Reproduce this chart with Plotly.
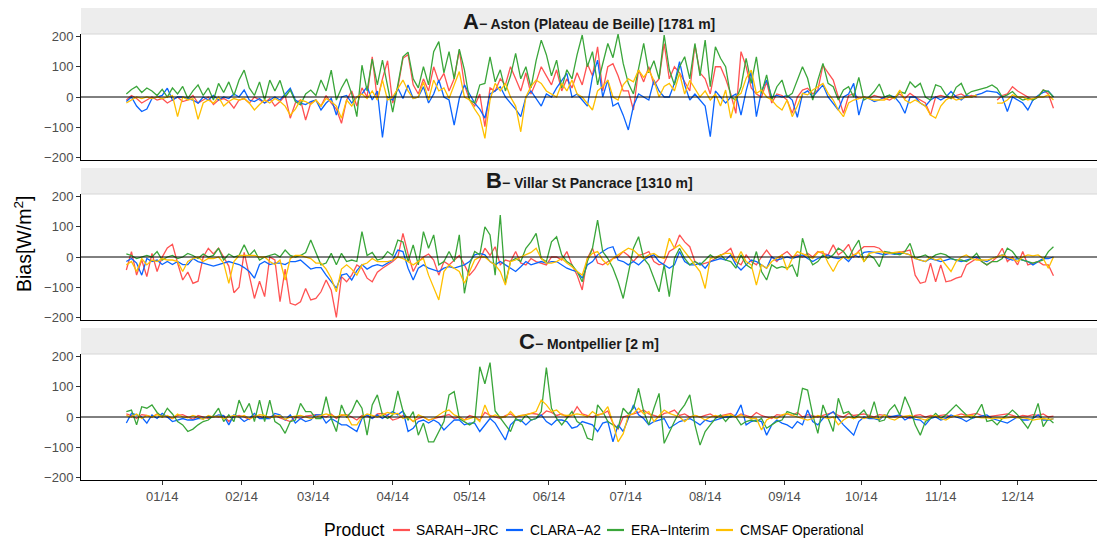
import pandas as pd
import plotly.graph_objects as go

# Observation days (one value every second day, Dec 2013 - Dec 2014)
dates = pd.date_range("2013-12-18", periods=182, freq="2D")

products = ["SARAH−JRC", "CLARA−A2", "ERA−Interim", "CMSAF Operational"]
colors = ["#FF5252", "#0A64FF", "#3AA63A", "#FFC000"]

month_ticks = pd.date_range("2014-01-01", periods=12, freq="MS")
month_labels = ["01/14", "02/14", "03/14", "04/14", "05/14", "06/14",
                "07/14", "08/14", "09/14", "10/14", "11/14", "12/14"]

# ---- Aston (Plateau de Beille), bias in W/m2 ----
aston_sarah = [
    -10, 5, -5, -20, -10, 0, -10,
    -5, -20, -10, 0, -15, -10, 5, -20, -10, 0, -25, -10, -5, -15, -37, -10,
    -5, -20, 0, -10, -20, -5, -30, -15, 5, -70, -20, -10, -76, -20,
    -10, -30, 5, -20, -40, -87, -10, 20, -30, 30, 0, 133, -10, 60, 120,
    -20, 30, 128, 140, 40, 10, 60, 20, 100, 50, 78, 20, 60, 155, 40,
    -10, -30, 10, -98, 30, 20, 60, 40, 100, 60, 20, 80, 10, 50, 100, 70,
    40, 90, 20, 60, 30, 80, 40, 110, 70, 166, 20, 100, 110, 70, 20,
    20, -43, 90, 50, 100, 40, 60, 177, 60, 100, 80, 50, 20, 172, 80,
    60, 10, 100, 100, 60, 10, -54, 150, 100, 30, 10, 0, 50, -20, 10, 5,
    -10, -54, 0, 23, 29, 10, 23, 105, 80, 56, 0, -54, 5, 10, -5,
    0, -5, 5, 0, -5, -10, 0, 10, -5, 12, 0, -10, -20, -60, 0,
    5, 0, -5, 5, 10, 0, 5, 0, None, None, None, -10, 5, 10, 34,
    20, 10, 0, -10, 0, 23, 10, -37,
]
aston_clara = [
    -15, 0, -30, -48, -40, -5, 0,
    5, 29, -10, 0, 0, -5, -10, -20, 0, -10, 5, -10, 0, -5, 10, 0,
    23, -10, -15, -5, -20, -10, 0, -10, 10, 29, -10, -20, -25, -15,
    -10, -43, -20, -5, -60, 0, 5, -20, 0, 10, 34, -10, 20, -134, 0,
    -10, 30, -5, 40, -5, 0, 34, -20, 10, 56, 0, -10, -93, -5, 40,
    10, -20, -40, -70, 10, 20, 34, 0, -20, -40, -65, 0, 20, -5, -30, 10,
    0, 30, 56, 78, 0, 10, -10, -30, 67, 122, 0, 56, -30, -20, -60,
    -109, -30, 10, 0, -10, 56, 20, 0, 0, 45, 117, 40, -10, 10, -10,
    -30, -131, 20, 0, -20, 0, 10, -60, 20, 84, -65, 20, 56, 0, 5, 0,
    5, -10, -67, 10, 20, 0, 20, 40, 0, -20, -43, 0, 10, 45, -60,
    0, -5, -15, -10, 0, 5, 0, -20, -54, 0, 0, -20, -30, -10, 0,
    -10, 0, 18, 0, -10, 5, 0, 7, 12, 20, 18, 15, 0, -48, 0,
    -10, -20, -43, -10, 5, 15, 20, 0,
]
aston_era = [
    10, 25, 35, 15, 30, 20, 5,
    25, 0, 30, 10, 35, -5, 20, 40, 5, 30, -10, 45, 15, 50, 5, 56,
    89, 30, 5, 50, -10, 56, 20, 55, 0, 23, -15, -26, 10, 23,
    5, 56, 20, 89, -10, 30, 60, 10, -65, 105, 20, 125, 40, 122, 30,
    -50, 40, 133, 148, 60, 30, 100, 40, 150, 183, 80, 150, 60, 158, 90,
    -10, -20, 40, 45, 133, 50, 90, 20, 70, 144, 60, 100, 30, 120, 188, 140,
    70, 122, 30, 90, 60, 140, 205, 100, 150, 40, 110, 177, 130, 208, 111,
    45, 10, 100, 177, 80, 120, 60, 205, 90, 40, 100, 133, 60, 177, 70,
    188, 34, 166, 128, 100, 0, -10, 34, 128, 45, 133, 12, 73, -10, 34, 56,
    0, 12, 56, 100, 62, -10, 56, 111, 45, 34, -10, 23, 34, 0, 65,
    -10, 0, 18, 43, 0, 7, -5, 18, 12, 50, 32, 45, 0, -10, 40,
    34, 7, -5, 32, 45, 7, 18, 23, 28, 32, 40, 28, 0, 7, 18,
    0, -10, -5, -10, 0, 23, 18, 0,
]
aston_cmsaf = [
    -20, -10, 0, -5, 0, -5, 0,
    -5, 0, 5, -65, 0, -10, -5, -74, -20, -10, -20, 0, -30, -15, -5, -10,
    -5, -20, -43, -25, -10, -20, -5, -15, -30, -60, -40, -10, -15, -25,
    -10, -30, -5, -15, -30, -70, -10, -30, 0, 10, -5, 20, -10, 56, -10,
    0, 30, 56, 20, -5, 0, 50, -10, 56, 20, 30, -5, 40, 84, 0,
    -10, -40, -65, -137, -10, 45, 20, 45, 0, -30, -115, 0, 35, 56, 45, 20,
    10, 0, 45, 20, 56, 10, 0, -20, -43, 20, 35, 56, 0, -10, 40,
    60, 50, 89, 65, 89, 55, 0, 35, 45, 20, 78, 10, 55, 25, 0,
    20, -10, 10, -30, 23, -70, 0, 12, 62, 89, 12, 23, 0, -10, -30, -43,
    -10, -65, -30, 12, 7, 23, 34, 45, 12, -10, -43, -65, -20, -10, -5,
    0, -5, -10, -10, -10, 0, -5, 23, -10, -20, -10, -20, -30, -60, -70,
    -30, -10, 0, -10, -5, 0, 0, 7, None, None, None, -20, -20, -10, 7,
    0, 0, -10, -5, 0, 0, 7, -10,
]

# ---- Villar St Pancrace ----
villar_sarah = [
    -43, 18, -60, -10, -65, 12, -48,
    0, 30, 42, -20, -76, -50, -87, -80, 0, 29, 10, 29, 0, -30, -118, -100,
    15, -60, -137, -80, -131, 0, -10, -148, -40, -153, -159, -148, -104, -142,
    -137, -115, -76, -110, -200, -65, -82, -60, -26, -37, -70, -82, -50, -37, -26,
    -15, 0, 78, 10, -48, -15, 0, 10, -10, -60, -15, -26, -10, 5, -26,
    -60, -40, -10, 29, 5, 34, -26, -10, -15, 18, -20, -26, -5, -15, -20, -26,
    0, 0, -10, 18, -26, -60, -109, -5, 29, -20, -26, -15, -5, 0, 18,
    5, -15, 5, 10, 18, -15, -26, -20, 18, 29, 73, 50, 34, -15, -26,
    -20, -15, -5, 5, 15, 29, -15, -26, 7, -15, -26, 0, 23, 0, -15, 7,
    18, 0, 7, 0, 12, 0, 18, 12, 7, 40, 7, 20, 42, 0, 20,
    34, 34, 34, 29, 12, 15, 12, 15, 18, 23, -60, -87, -82, -20, -82,
    -26, -82, -78, -70, -65, -26, -15, -5, -15, -26, -15, 0, 29, -15, 0,
    -26, 18, -26, -20, -15, -26, -26, -62,
]
villar_clara = [
    -15, -5, -20, -60, -5, -15, -10,
    -25, -15, -25, -15, -25, -25, -5, -15, -20, -25, -30, -25, -20, -15, -20, -25,
    -35, -48, -70, -25, -15, -25, -20, -20, -25, -15, -15, -10, -25, -40,
    -35, -35, -60, -80, -103, -60, -55, -76, -45, -25, -40, -30, -25, -30, -20,
    -10, 23, 18, -37, -76, -37, -26, -37, -43, -48, -37, -32, -37, -32, -26,
    -15, 7, 12, 7, -15, -26, -15, -26, -37, -48, -32, -15, -26, -20, -15, -20,
    -15, -15, -26, -37, -43, -48, -70, -26, -15, 7, 18, 29, 34, -10, -15,
    -26, -15, -26, -10, 0, 7, -15, -26, -37, -26, 18, -15, -26, -26, -20,
    -37, -15, -10, -5, -10, 7, -26, -43, -26, -10, -15, -26, -37, 0, -10, -5,
    0, -5, 0, 7, -5, -15, -5, 0, 7, -2, -5, 0, -15, 7, 0,
    15, 18, 15, 12, 7, 12, 9, 12, 12, 7, -5, -10, -15, -5, -10,
    -15, -10, -5, -10, -15, -10, -5, 0, -10, -15, -5, 0, 7, -5, -10,
    -5, -10, -15, -26, -15, -5, -5, 0,
]
villar_era = [
    10, 5, -5, 0, 5, 0, 18,
    -10, 0, 5, -5, 0, 12, 5, -5, 10, 0, 5, 29, -10, 10, 0, 5,
    40, 5, 23, -10, 0, 5, 10, 0, 23, 5, 0, 5, 15, 56,
    15, -26, -20, 12, -26, 12, -15, -10, -15, 84, 5, 15, -10, -5, 18,
    5, 56, 50, -15, 40, -26, 84, 29, 73, -26, -15, 18, -15, 73, -120,
    -26, 18, 7, 100, 73, -60, 139, -87, -15, -5, -15, 29, 50, 78, -5, -15,
    50, 67, 7, -15, -26, -48, -82, -15, 29, 122, 18, -5, -37, -82, -137,
    -48, 29, 67, -5, -26, -70, -115, -26, -131, -5, 29, -5, -26, -15, -26,
    -10, 7, -5, 7, -10, -15, -37, 7, -26, -37, 18, -48, -76, -26, -37, -32,
    -37, -26, -65, 62, 7, -26, -15, 7, -5, 7, 29, 18, -5, 29, 56,
    -15, 7, -5, -32, 18, 15, 12, 7, 18, 45, -5, 0, 7, -5, 7,
    12, 7, -5, -10, -10, -15, -5, 12, -15, -26, -15, -15, -5, 29, 18,
    -5, -10, -15, -20, -15, -10, 18, 34,
]
villar_cmsaf = [
    -26, -15, -48, -5, -26, -10, -15,
    -5, -10, -10, -15, -48, -15, -5, 0, -15, -5, -5, 0, -20, -87, -15, 5,
    5, 3, 5, 0, 0, -15, -25, -10, -76, -5, 5, 5, 0, -5,
    -20, -20, -40, -70, -115, -40, -26, -40, -60, -26, -20, -5, -15, -15, -15,
    -10, 0, -5, -15, -26, -15, -5, -60, -104, -142, -48, -26, -37, -48, -87,
    -48, -10, 0, 0, -15, -26, -48, -93, -15, -10, 0, 7, 15, 29, -5, -20,
    -20, -15, -5, -20, -32, -48, -60, -5, 12, 18, -10, -26, -5, 7, 18,
    29, 23, 7, -5, 7, 12, 0, -5, 62, 29, 40, 18, -5, -26, -48,
    -104, -5, 0, 7, 12, 12, -15, 18, -15, -26, -93, -26, -37, -15, -5, 7,
    -43, -5, 18, 12, 4, -5, 15, 18, -20, -48, -15, 0, -5, 7, 15,
    -15, 12, 15, 18, 15, 12, 15, 18, 12, 7, -5, -10, -15, 0, -10,
    -5, -26, -48, -15, 0, 7, -5, -10, -10, -10, -5, 0, 7, 0, -5,
    -15, 0, 7, 4, 7, -5, -37, 0,
]

# ---- Montpellier ----
montp_sarah = [
    10, 5, -5, 8, 5, 0, 10,
    5, 0, -5, 5, 8, 0, -8, 5, 0, -5, 3, 0, 5, -15, 0, 5,
    0, -8, 5, 3, -5, 0, 5, -3, -10, -15, 0, -5, 3, 5,
    8, 5, 0, 10, -5, 5, 8, 0, -10, 5, 3, -5, 10, 12, 5,
    -10, -5, 5, 0, -15, -5, 0, -10, -5, 0, 5, 8, -5, 0, -10,
    5, 0, -10, 15, 5, 0, -5, 5, 10, 0, 5, 8, 12, 10, 5, 20,
    15, 5, 10, 0, 5, 34, 10, 5, 0, 8, 10, 20, -20, -40, 0,
    5, 10, 15, 23, 10, 5, 0, 12, 15, 23, 5, 10, 0, 5, 0,
    5, 10, 0, 5, 8, 12, 0, 10, 5, 0, 15, 5, 0, -5, 8, 5,
    10, 5, 15, 0, 8, 5, 0, 5, 10, 15, 5, 0, 12, 5, 8,
    10, 5, 0, 8, 5, 3, 0, 5, 0, -5, 5, 8, 0, 5, 3,
    5, 8, 0, 5, 10, 5, 8, 12, 5, 0, 3, 5, 8, 10, 5,
    0, 5, 3, 8, 5, 10, 0, 3,
]
montp_clara = [
    -20, 12, 7, 0, -20, 7, -5,
    12, 0, -15, -10, -5, -10, -10, -5, -5, 0, 0, 7, 5, -26, 7, 0,
    -15, -5, 12, -5, -5, -5, 12, 7, -10, 7, -20, -5, -15, -10,
    7, 7, -20, -5, -15, -26, -26, -37, -48, -5, 7, -5, 7, -5, 7,
    18, 7, 20, -48, -37, -15, -10, -20, -10, -20, -43, -26, -10, -10, -26,
    -20, -20, -48, -26, -5, -20, -48, -76, -26, -10, -10, -26, -10, -5, 7, -15,
    -26, -10, -10, -15, -37, -32, -15, -20, -26, -48, -20, -15, -82, -26, -48,
    -5, 40, 7, -5, -26, -15, -10, -5, -37, -26, -15, -10, -5, -15, -26,
    -10, -15, -10, -5, 0, 0, 7, 40, -26, -15, -10, -15, -60, -26, -10, -20,
    -26, -37, -15, -26, 23, -15, -26, -5, 7, 18, -5, -26, -43, -60, -15,
    0, -5, -5, -10, 7, 0, 4, 7, -10, 0, -8, -10, -26, -5, 0,
    -10, -5, 7, 0, -5, -15, -5, 0, 4, 7, -5, -10, -15, -20, -10,
    0, -10, -10, -5, 7, -10, -10, -5,
]
montp_era = [
    18, 23, -26, 34, 29, 40, 15,
    0, 29, 10, -15, -26, -48, -40, -26, -15, -10, 5, 29, -15, 7, -15, 56,
    15, 45, -15, 56, -15, 56, -15, -26, -54, -15, -10, 45, 18, 18,
    -5, -5, 67, -5, -48, 40, 0, 18, 56, 29, -60, 40, 73, 7, -5,
    7, 86, 20, -10, 18, -60, -20, -82, -82, -48, -15, 73, 84, -5, -15,
    -26, -15, 166, 110, 180, 20, -5, -26, -48, -5, -15, 7, -10, -5, 18, 163,
    29, -5, -26, -5, 18, -15, -26, -70, -76, 40, 18, -15, -26, -37, 29,
    10, 29, 95, 18, -26, 29, 78, -87, -48, -15, 18, 40, 73, -26, -93,
    -48, -26, -5, 7, -15, 5, 0, -26, -15, -10, -15, -5, -37, -26, -15, -10,
    18, 12, 7, 95, 89, 7, -54, 40, -5, -48, 62, 12, 18, -5, 7,
    23, -5, 51, -15, -10, 23, 40, 7, 67, 29, -26, -60, -15, -5, 12,
    -5, 7, 23, 40, 23, 7, -5, 12, 42, -15, -10, -26, -5, 7, 23,
    7, -15, -37, -5, 45, -32, -5, -20,
]
montp_cmsaf = [
    5, 0, 10, -5, 5, 0, 8,
    0, 5, -5, 10, 0, -3, 5, 0, -8, 5, 0, 3, -5, 0, 5, 0,
    5, -5, 0, 8, 5, -3, 0, 5, -8, 0, 3, 5, 0, -5,
    0, 5, 10, 5, 0, 8, 5, -26, -26, 0, 10, 5, 0, 8, 15,
    10, 12, -5, 0, -15, 7, 0, -10, -5, 7, 18, 23, 7, 0, -10,
    -5, 0, -15, 40, 0, 7, 0, 0, 18, 0, 5, 7, 12, 18, 56, 40,
    18, 23, 7, 5, 7, 10, 7, 0, 18, 5, 12, 34, -20, -82, -55,
    5, 12, 29, 10, 18, -15, 5, 23, 12, 7, 0, -15, 0, 5, 0,
    -10, 0, 5, 0, 5, 8, 0, 7, 0, -5, -5, -43, -10, 0, -5, 7,
    12, 5, 0, -5, -10, -5, 5, 0, -5, 0, -26, -10, 0, -5, 0,
    -5, 0, -3, -6, 7, -5, -10, 0, 3, 5, 0, -5, -10, 0, 5,
    -5, -10, 0, 5, 0, 3, 5, 0, -3, -3, -5, -3, -5, -3, 0,
    -3, -2, -5, -10, -7, -5, -8, -6,
]

panels = [
    ("A", "Aston (Plateau de Beille) [1781 m]",
     [aston_sarah, aston_clara, aston_era, aston_cmsaf]),
    ("B", "Villar St Pancrace [1310 m]",
     [villar_sarah, villar_clara, villar_era, villar_cmsaf]),
    ("C", "Montpellier [2 m]",
     [montp_sarah, montp_clara, montp_era, montp_cmsaf]),
]

for _, site, series in panels:
    for s in series:
        assert len(s) == len(dates), (site, len(s))

W, H = 1097, 539
LEFT = 81


def fy(px):
    """Page pixel row -> paper fraction."""
    return (H - px) / H


def fx(px):
    """Page pixel column -> paper fraction."""
    return (px - LEFT) / (W - LEFT)


panel_px = [(34, 160), (194, 320), (354, 480)]
strip_px = [(8, 34), (168, 194), (328, 354)]
x_range = ["2013-11-30 07:00", "2015-01-01 00:00"]
y_lim = 208.3

font_family = "Liberation Sans, Arial, Helvetica, sans-serif"

fig = go.Figure()
shapes = []
annotations = []

for i, (letter, site, series) in enumerate(panels):
    n = "" if i == 0 else str(i + 1)
    for name, color, vals in zip(products, colors, series):
        fig.add_trace(go.Scatter(
            x=dates, y=vals, mode="lines", name=name,
            line=dict(color=color, width=1.3),
            showlegend=False, connectgaps=False,
            xaxis="x" + n, yaxis="y" + n,
        ))

    top, bot = panel_px[i]
    bottom_panel = i == len(panels) - 1
    fig.layout["yaxis" + n] = dict(
        domain=[fy(bot), fy(top)], anchor="x" + n,
        range=[-y_lim, y_lim], tickvals=[-200, -100, 0, 100, 200],
        ticks="outside", ticklen=4, tickcolor="#333333", tickwidth=1,
        showline=True, linecolor="black", linewidth=1,
        showgrid=False, zeroline=False,
        tickfont=dict(size=13, color="#4D4D4D", family=font_family),
    )
    fig.layout["xaxis" + n] = dict(
        domain=[0, 1], anchor="y" + n, type="date", range=x_range,
        tickvals=list(month_ticks), ticktext=month_labels,
        showticklabels=bottom_panel,
        ticks="outside" if bottom_panel else "", ticklen=4,
        tickcolor="#333333", tickwidth=1,
        showline=True, linecolor="black", linewidth=1,
        showgrid=False, zeroline=False,
        tickfont=dict(size=13, color="#4D4D4D", family=font_family),
    )

    # zero reference line on top of the series
    shapes.append(dict(
        type="line", xref="x" + n + " domain", yref="y" + n,
        x0=0, x1=1, y0=0, y1=0, layer="above",
        line=dict(color="black", width=1),
    ))

    # facet strip
    s_top, s_bot = strip_px[i]
    shapes.append(dict(
        type="rect", xref="paper", yref="paper",
        x0=0, x1=1, y0=fy(s_bot), y1=fy(s_top),
        fillcolor="#EDEDED", line=dict(width=0), layer="below",
    ))
    shapes.append(dict(
        type="line", xref="paper", yref="paper",
        x0=0, x1=1, y0=fy(s_bot), y1=fy(s_bot),
        line=dict(color="#D6D6D6", width=1), layer="below",
    ))
    annotations.append(dict(
        xref="paper", yref="paper", x=0.5, y=fy((s_top + s_bot) / 2),
        xanchor="center", yanchor="middle", showarrow=False,
        text=("<b><span style='font-size:22px'>%s</span>− %s</b>"
              % (letter, site)),
        font=dict(size=14, color="#1A1A1A", family=font_family),
    ))

# y-axis title
annotations.append(dict(
    xref="paper", yref="paper", x=fx(23), y=fy(244),
    xanchor="center", yanchor="middle", showarrow=False, textangle=-90,
    text="Bias[W/m<sup>2</sup>]",
    font=dict(size=19.5, color="black", family=font_family),
))

# legend row at the bottom: title, then a key line and label per product
legend_y = fy(530)
annotations.append(dict(
    xref="paper", yref="paper", x=fx(322), y=legend_y,
    xanchor="left", yanchor="middle", showarrow=False,
    text="Product", font=dict(size=17.5, color="black", family=font_family),
))
key_x = [(393, 410, 414), (506, 523, 528), (607, 624, 629), (716, 733, 738)]
for (k0, k1, tx), name, color in zip(key_x, products, colors):
    shapes.append(dict(
        type="line", xref="paper", yref="paper",
        x0=fx(k0), x1=fx(k1), y0=legend_y, y1=legend_y,
        line=dict(color=color, width=2.2),
    ))
    annotations.append(dict(
        xref="paper", yref="paper", x=fx(tx), y=legend_y,
        xanchor="left", yanchor="middle", showarrow=False,
        text=name, font=dict(size=13.8, color="black", family=font_family),
    ))

fig.update_layout(
    width=W, height=H,
    margin=dict(l=LEFT, r=0, t=0, b=0, autoexpand=False),
    paper_bgcolor="white", plot_bgcolor="white",
    font=dict(family=font_family, color="black"),
    shapes=shapes, annotations=annotations,
    showlegend=False,
)

fig.write_html("out.html")
